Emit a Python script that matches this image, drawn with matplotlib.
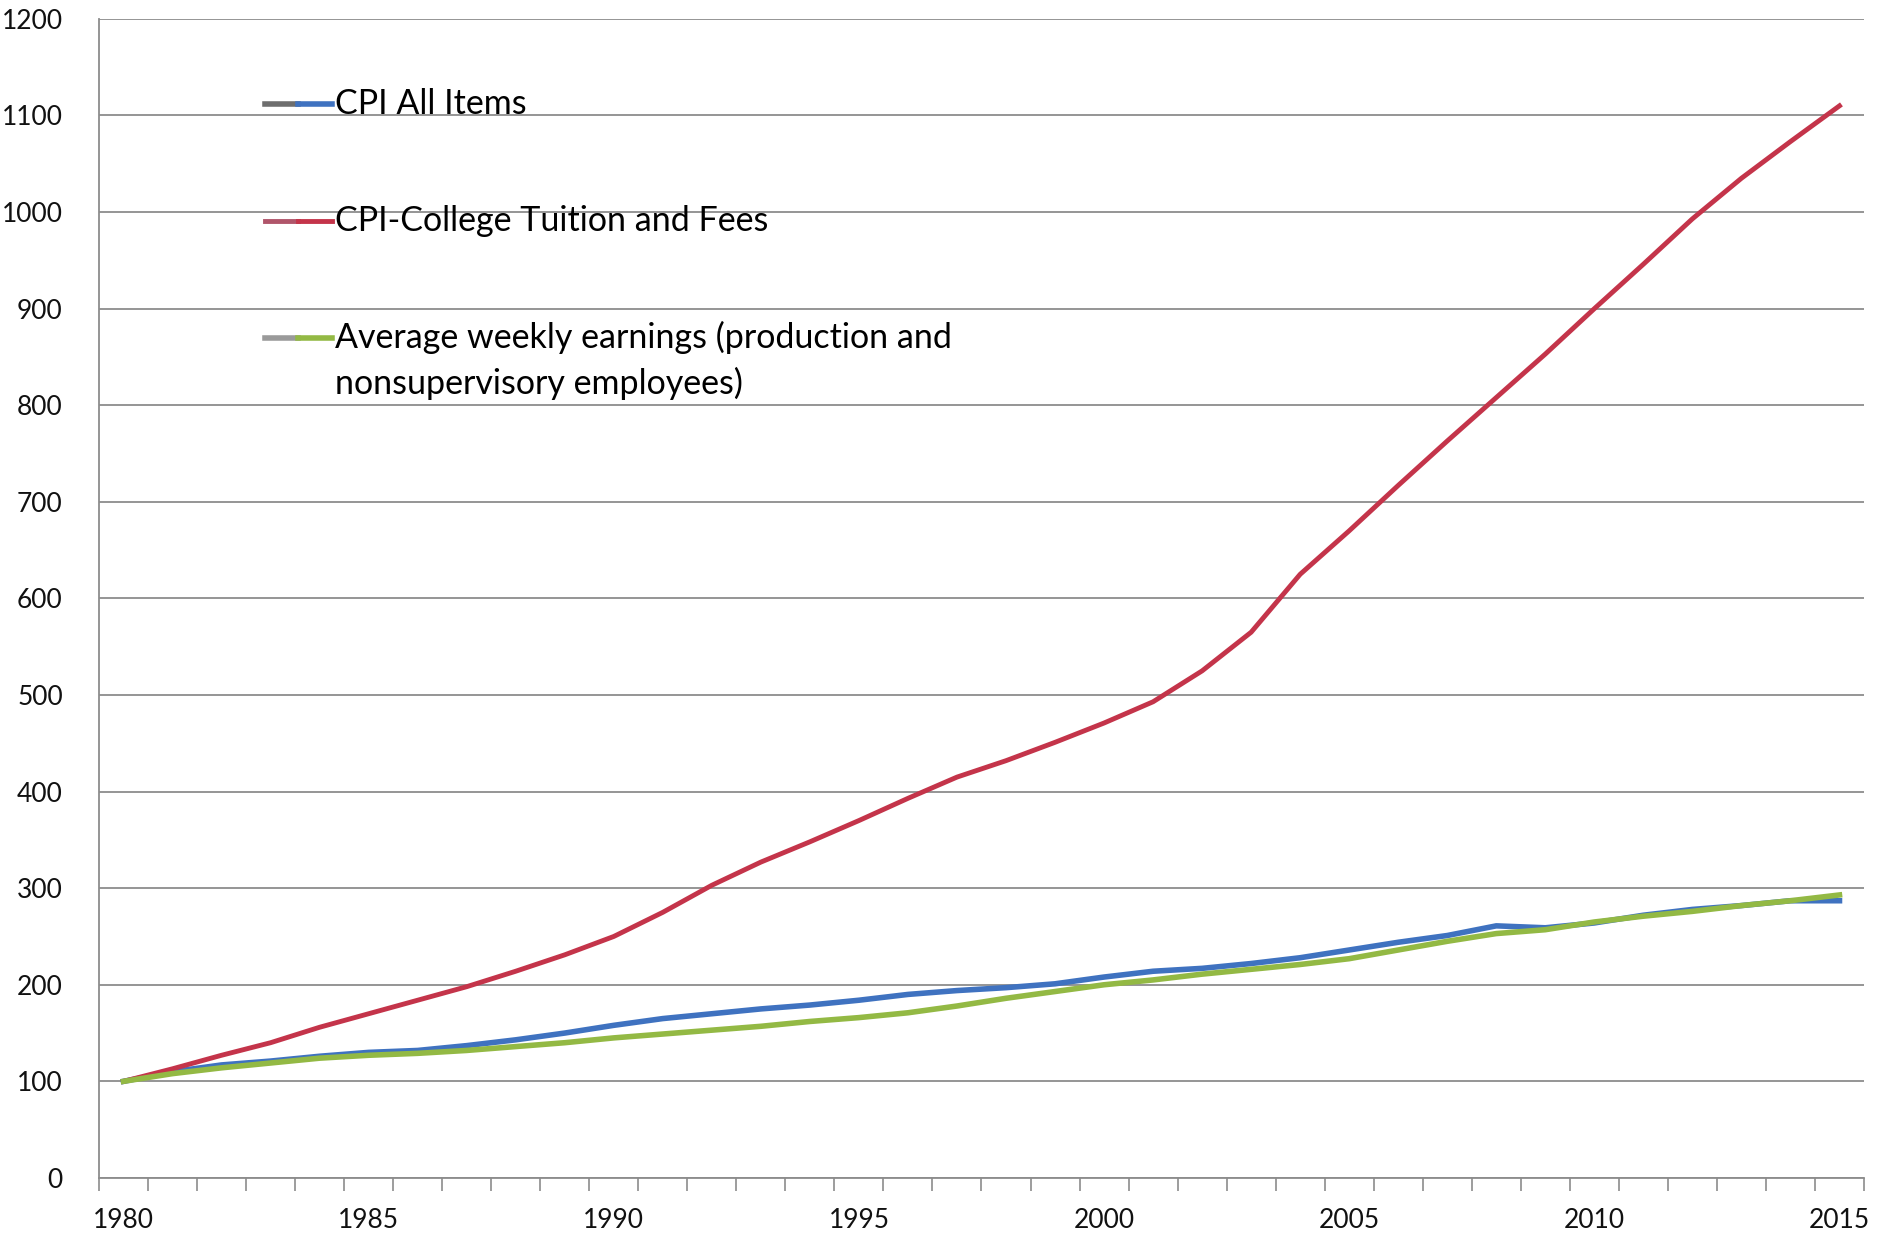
import matplotlib
matplotlib.use("Agg")
import matplotlib.pyplot as plt
from matplotlib.lines import Line2D
import numpy as np

plt.rcParams['font.family'] = ['Lato', 'DejaVu Sans']

# Index values, 1980 = 100
years = list(range(1980, 2016))

cpi_all = [100, 110, 117, 121, 126, 130, 132, 137, 143, 150,
           158, 165, 170, 175, 179, 184, 190, 194, 197, 201,
           208, 214, 217, 222, 228, 236, 244, 251, 261, 259,
           264, 272, 278, 282, 287, 287]

cpi_tuition = [100, 113, 127, 140, 156, 170, 184, 198, 214, 231,
               250, 275, 303, 327, 348, 370, 393, 415, 432, 451,
               471, 493, 525, 565, 625, 670, 717, 763, 808, 853,
               900, 946, 993, 1035, 1073, 1110]

weekly_earnings = [100, 108, 114, 119, 124, 127, 129, 132, 136, 140,
                   145, 149, 153, 157, 162, 166, 171, 178, 186, 193,
                   200, 205, 211, 216, 221, 227, 236, 245, 253, 257,
                   265, 271, 276, 282, 287, 293]

series_labels = ["CPI All Items",
                 "CPI-College Tuition and Fees",
                 "Average weekly earnings (production and\nnonsupervisory employees)"]
series_colors = ["#3F72C0", "#C4344A", "#93B944"]
series_widths = [4.0, 3.5, 4.0]
handle_greys = ["#6E6E6E", "#B0556A", "#9A9A9A"]

y_ticks = list(range(0, 1201, 100))
x_label_years = list(range(1980, 2016, 5))

fig = plt.figure(figsize=(18.92, 12.35), dpi=100)
ax = fig.add_axes([0.0523, 0.0462, 0.9329, 0.9385])

for vals, color, lw in zip([cpi_all, cpi_tuition, weekly_earnings], series_colors, series_widths):
    ax.plot(years, vals, color=color, lw=lw, solid_joinstyle='round', zorder=3)

ax.set_xlim(1979.5, 2015.5)
ax.set_ylim(0, 1200)

grid_color = "#8C8C8C"
ax.set_yticks(y_ticks)
ax.yaxis.grid(True, color=grid_color, lw=1.3, zorder=0)
ax.tick_params(axis='y', length=0, pad=26, labelsize=19, labelcolor='#111111')

ax.set_xticks(x_label_years)
ax.set_xticks(np.arange(1979.5, 2016, 1), minor=True)
ax.tick_params(axis='x', which='major', length=0, pad=22, labelsize=19, labelcolor='#111111')
ax.tick_params(axis='x', which='minor', length=9, width=1.2, color=grid_color, direction='out')

for side in ['top', 'right']:
    ax.spines[side].set_visible(False)
for side in ['left', 'bottom']:
    ax.spines[side].set_color(grid_color)
    ax.spines[side].set_linewidth(1.3)

# hand-placed legend entries, one text per line so the key sits on line one
legend_y = [0.9267, 0.8257, 0.7248]
line_step = 0.0395
for label, color, grey, lw, ly in zip(series_labels, series_colors, handle_greys,
                                      series_widths, legend_y):
    ax.add_line(Line2D([0.094, 0.113], [ly, ly], transform=ax.transAxes,
                       color=grey, lw=lw, clip_on=False, zorder=4))
    ax.add_line(Line2D([0.113, 0.132], [ly, ly], transform=ax.transAxes,
                       color=color, lw=lw, clip_on=False, zorder=4))
    for i, part in enumerate(label.split('\n')):
        ax.text(0.1335, ly - i * line_step, part, transform=ax.transAxes,
                fontsize=24.5, va='center', ha='left', color='#000000')

fig.savefig("out.png", dpi=100, facecolor='white')
